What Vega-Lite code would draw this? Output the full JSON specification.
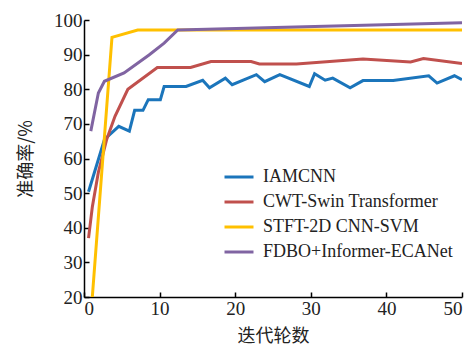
{
  "$schema": "https://vega.github.io/schema/vega-lite/v6.json",
  "width": 378,
  "height": 277,
  "autosize": {"type": "none"},
  "padding": {"left": 84, "top": 20, "right": 12, "bottom": 49},
  "config": {"view": {"stroke": null}, "font": "Liberation Serif"},
  "data": {
    "values": [
      {"series": "IAMCNN", "x": 0.6, "y": 50.4},
      {"series": "IAMCNN", "x": 2.7, "y": 65.5},
      {"series": "IAMCNN", "x": 4.6, "y": 69.3},
      {"series": "IAMCNN", "x": 6.0, "y": 67.9},
      {"series": "IAMCNN", "x": 6.7, "y": 73.9},
      {"series": "IAMCNN", "x": 7.8, "y": 73.9},
      {"series": "IAMCNN", "x": 8.5, "y": 77},
      {"series": "IAMCNN", "x": 10.1, "y": 77},
      {"series": "IAMCNN", "x": 10.6, "y": 80.8},
      {"series": "IAMCNN", "x": 13.5, "y": 80.8},
      {"series": "IAMCNN", "x": 15.7, "y": 82.6},
      {"series": "IAMCNN", "x": 16.6, "y": 80.4},
      {"series": "IAMCNN", "x": 18.7, "y": 83.2},
      {"series": "IAMCNN", "x": 19.6, "y": 81.3},
      {"series": "IAMCNN", "x": 22.8, "y": 84.2},
      {"series": "IAMCNN", "x": 23.9, "y": 82.2},
      {"series": "IAMCNN", "x": 25.9, "y": 84.2},
      {"series": "IAMCNN", "x": 29.8, "y": 80.8},
      {"series": "IAMCNN", "x": 30.5, "y": 84.5},
      {"series": "IAMCNN", "x": 31.9, "y": 82.6},
      {"series": "IAMCNN", "x": 32.9, "y": 83.2},
      {"series": "IAMCNN", "x": 35.2, "y": 80.4},
      {"series": "IAMCNN", "x": 36.9, "y": 82.5},
      {"series": "IAMCNN", "x": 40.9, "y": 82.5},
      {"series": "IAMCNN", "x": 45.6, "y": 83.9},
      {"series": "IAMCNN", "x": 46.7, "y": 81.8},
      {"series": "IAMCNN", "x": 49.0, "y": 83.9},
      {"series": "IAMCNN", "x": 50, "y": 82.8},
      {"series": "CWT-Swin Transformer", "x": 0.6, "y": 37},
      {"series": "CWT-Swin Transformer", "x": 1.1, "y": 46},
      {"series": "CWT-Swin Transformer", "x": 1.9, "y": 56},
      {"series": "CWT-Swin Transformer", "x": 3.0, "y": 65.5},
      {"series": "CWT-Swin Transformer", "x": 4.1, "y": 72.2},
      {"series": "CWT-Swin Transformer", "x": 5.8, "y": 80},
      {"series": "CWT-Swin Transformer", "x": 9.7, "y": 86.3},
      {"series": "CWT-Swin Transformer", "x": 14.1, "y": 86.3},
      {"series": "CWT-Swin Transformer", "x": 16.8, "y": 88},
      {"series": "CWT-Swin Transformer", "x": 22.1, "y": 88},
      {"series": "CWT-Swin Transformer", "x": 23.2, "y": 87.3},
      {"series": "CWT-Swin Transformer", "x": 28.1, "y": 87.3},
      {"series": "CWT-Swin Transformer", "x": 36.9, "y": 88.7},
      {"series": "CWT-Swin Transformer", "x": 43.2, "y": 87.9},
      {"series": "CWT-Swin Transformer", "x": 44.9, "y": 88.9},
      {"series": "CWT-Swin Transformer", "x": 50, "y": 87.4},
      {"series": "STFT-2D CNN-SVM", "x": 1.1, "y": 20},
      {"series": "STFT-2D CNN-SVM", "x": 3.7, "y": 95.0},
      {"series": "STFT-2D CNN-SVM", "x": 7.1, "y": 97.1},
      {"series": "STFT-2D CNN-SVM", "x": 50, "y": 97.1},
      {"series": "FDBO+Informer-ECANet", "x": 0.9, "y": 67.9},
      {"series": "FDBO+Informer-ECANet", "x": 1.9, "y": 78.9},
      {"series": "FDBO+Informer-ECANet", "x": 2.7, "y": 82.3},
      {"series": "FDBO+Informer-ECANet", "x": 5.3, "y": 84.7},
      {"series": "FDBO+Informer-ECANet", "x": 8.6, "y": 89.9},
      {"series": "FDBO+Informer-ECANet", "x": 10.6, "y": 93.3},
      {"series": "FDBO+Informer-ECANet", "x": 12.4, "y": 97.1},
      {"series": "FDBO+Informer-ECANet", "x": 50, "y": 99.2}
    ]
  },
  "mark": {"type": "line", "strokeWidth": 3, "clip": true},
  "encoding": {
    "x": {
      "field": "x",
      "type": "quantitative",
      "scale": {"domain": [0, 50], "nice": false, "zero": false},
      "axis": {
        "values": [0, 10, 20, 30, 40, 50],
        "title": "迭代轮数",
        "titleFont": "Noto Sans CJK SC",
        "titleFontSize": 18,
        "titleFontWeight": "normal",
        "titleColor": "#222",
        "titlePadding": 9,
        "grid": false,
        "tickSize": -5,
        "tickWidth": 1.5,
        "tickColor": "#000",
        "domainColor": "#000",
        "domainWidth": 1.5,
        "labelFont": "Liberation Serif",
        "labelFontSize": 19,
        "labelColor": "#222",
        "labelPadding": 7
      }
    },
    "y": {
      "field": "y",
      "type": "quantitative",
      "scale": {"domain": [20, 100], "nice": false, "zero": false},
      "axis": {
        "values": [20, 30, 40, 50, 60, 70, 80, 90, 100],
        "title": "准确率/%",
        "titleFont": "Noto Sans CJK SC",
        "titleFontSize": 18,
        "titleFontWeight": "normal",
        "titleColor": "#222",
        "titlePadding": 18,
        "grid": false,
        "tickSize": -5,
        "tickWidth": 1.5,
        "tickColor": "#000",
        "domainColor": "#000",
        "domainWidth": 1.5,
        "labelFont": "Liberation Serif",
        "labelFontSize": 19,
        "labelColor": "#222",
        "labelPadding": 7
      }
    },
    "color": {
      "field": "series",
      "type": "nominal",
      "sort": null,
      "scale": {
        "domain": ["IAMCNN", "CWT-Swin Transformer", "STFT-2D CNN-SVM", "FDBO+Informer-ECANet"],
        "range": ["#1b75bb", "#c0504d", "#ffc000", "#8064a2"]
      },
      "legend": {
        "title": null,
        "orient": "none",
        "legendX": 139,
        "legendY": 141,
        "symbolType": "stroke",
        "symbolSize": 841,
        "symbolStrokeWidth": 3,
        "labelFont": "Liberation Serif",
        "labelFontSize": 18,
        "labelColor": "#222",
        "labelLimit": 0,
        "labelOffset": 8,
        "rowPadding": -6.8
      }
    }
  }
}
